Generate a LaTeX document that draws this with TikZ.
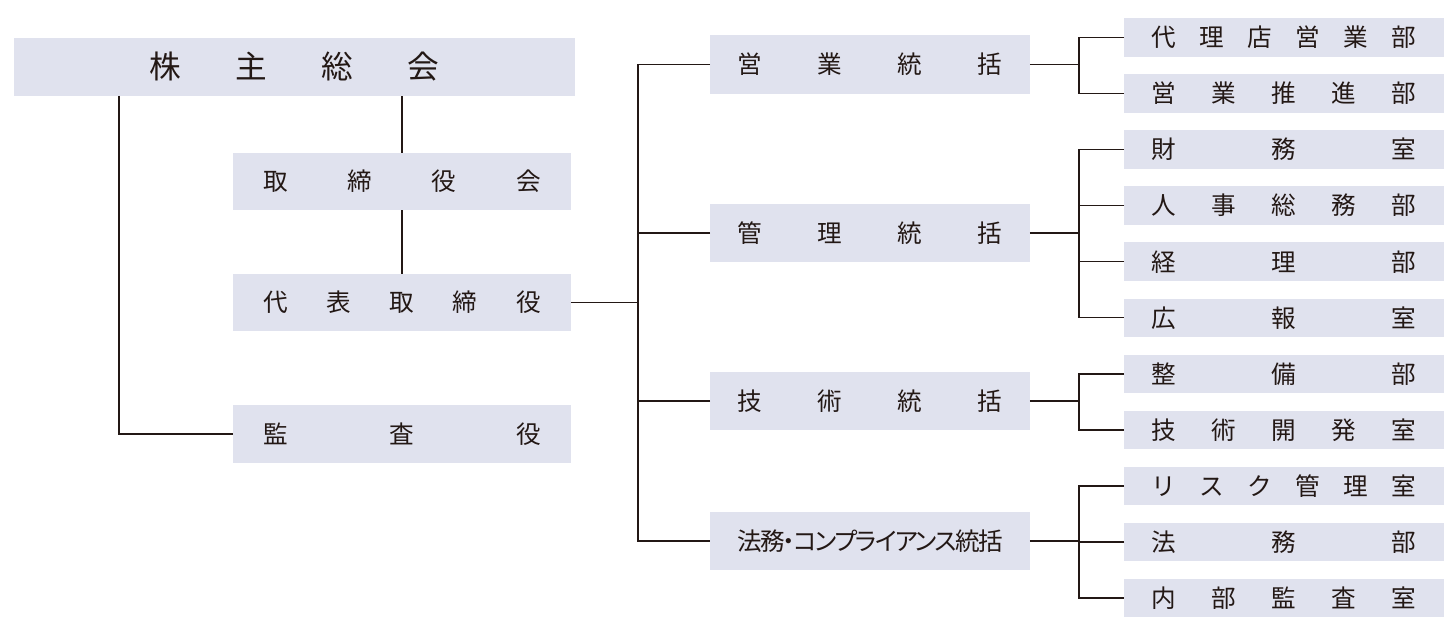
\documentclass[tikz,border=0pt]{standalone}
\usepackage{fontspec}
\setmainfont{Noto Sans CJK JP}
\newfontfamily\paltfont[RawFeature=+palt, LetterSpace=-7]{Noto Sans CJK JP}
\usetikzlibrary{calc}
\definecolor{boxfill}{RGB}{224,226,238}
\definecolor{ink}{RGB}{35,24,21}
% 文字を枠いっぱいに均等割り
\newcommand\spread[2]{\makebox[#1][s]{#2}}

\begin{document}
\begin{tikzpicture}[x=0.02cm, y=-0.02cm, line width=0.8pt, color=ink,
  unit/.style={fill=boxfill, inner sep=0pt, outer sep=0pt,
    font=\fontsize{14}{14}\selectfont, text height=12.3pt, text depth=1.7pt},
  exec/.style={unit, minimum width=6.76cm, minimum height=1.15cm},
  head/.style={unit, minimum width=6.4cm, minimum height=1.17cm},
  dept/.style={unit, minimum width=6.4cm, minimum height=0.77cm}]
  \useasboundingbox (0,0) rectangle (1454,628);

  % 左側：株主総会・取締役会・代表取締役・監査役
  \node[unit, minimum width=11.22cm, minimum height=1.16cm,
    font=\fontsize{18}{18}\selectfont, text height=15.8pt, text depth=2.2pt]
    (soukai) at (294.5,67) {\spread{5.8cm}{株\hfill 主\hfill 総\hfill 会}};
  \node[exec] (torishimari) at (402,181.5) {\spread{5.55cm}{取\hfill 締\hfill 役\hfill 会}};
  \node[exec] (daihyo) at (402,302.5) {\spread{5.55cm}{代\hfill 表\hfill 取\hfill 締\hfill 役}};
  \node[exec] (kansa) at (402,434) {\spread{5.55cm}{監\hfill 査\hfill 役}};

  % 中央：各統括
  \node[head] (eigyo) at (870,64.5) {\spread{5.3cm}{営\hfill 業\hfill 統\hfill 括}};
  \node[head] (kanri) at (870,233) {\spread{5.3cm}{管\hfill 理\hfill 統\hfill 括}};
  \node[head] (gijutsu) at (870,401) {\spread{5.3cm}{技\hfill 術\hfill 統\hfill 括}};
  \node[head] (houmu) at (870,541) {\paltfont 法務・コンプライアンス統括};

  % 右側：各部室
  \foreach \txt [count=\i] in {代\hfill 理\hfill 店\hfill 営\hfill 業\hfill 部,
      営\hfill 業\hfill 推\hfill 進\hfill 部, 財\hfill 務\hfill 室,
      人\hfill 事\hfill 総\hfill 務\hfill 部, 経\hfill 理\hfill 部,
      広\hfill 報\hfill 室, 整\hfill 備\hfill 部,
      技\hfill 術\hfill 開\hfill 発\hfill 室,
      リ\hfill ス\hfill ク\hfill 管\hfill 理\hfill 室,
      法\hfill 務\hfill 部, 内\hfill 部\hfill 監\hfill 査\hfill 室}
    \node[dept] (r\i) at (1284,{37.5+56.05*(\i-1)}) {\spread{5.3cm}{\txt}};

  % 株主総会から
  \draw (torishimari.north) -- (torishimari.north |- soukai.south);
  \draw (torishimari.south) -- (daihyo.north);
  \draw ($(soukai.south west)+(105,0)$) |- (kansa.west);

  % 代表取締役から各統括へ
  \draw (eigyo.west) -- ++(-72,0) coordinate (trunk) |- (houmu.west);
  \draw (daihyo.east) -- (daihyo.east -| trunk);
  \draw (kanri.west) -- (kanri.west -| trunk);
  \draw (gijutsu.west) -- (gijutsu.west -| trunk);

  % 各統括から部室へ
  \coordinate (branch) at ($(r1.west)+(-45,0)$);
  \foreach \a/\b in {1/2,3/6,7/8,9/11}
    \draw (r\a.west) -- (r\a.west -| branch) -- (r\b.west -| branch) -- (r\b.west);
  \foreach \i in {4,5,10}
    \draw (r\i.west) -- (r\i.west -| branch);
  \foreach \m in {eigyo,kanri,gijutsu,houmu}
    \draw (\m.east) -- (\m.east -| branch);
\end{tikzpicture}
\end{document}
